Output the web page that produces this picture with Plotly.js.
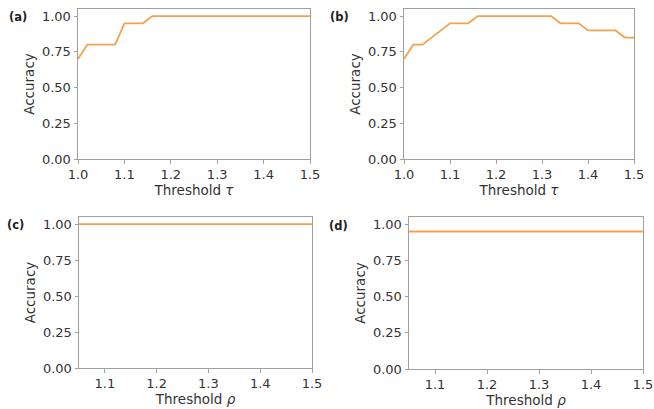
<!DOCTYPE html>
<html>
<head>
<meta charset="utf-8">
<script src="https://cdn.plot.ly/plotly-3.0.1.min.js"></script>
<style>html,body{margin:0;padding:0;background:#fff;}#chart{width:654px;height:409px;}</style>
</head>
<body>
<div id="chart"></div>
<script>
// Data
const tauValues = [1.00,1.02,1.04,1.06,1.08,1.10,1.12,1.14,1.16,1.18,1.20,1.22,1.24,1.26,1.28,1.30,1.32,1.34,1.36,1.38,1.40,1.42,1.44,1.46,1.48,1.50];
const accuracyA = [0.70,0.80,0.80,0.80,0.80,0.95,0.95,0.95,1.00,1.00,1.00,1.00,1.00,1.00,1.00,1.00,1.00,1.00,1.00,1.00,1.00,1.00,1.00,1.00,1.00,1.00];
const accuracyB = [0.70,0.80,0.80,0.85,0.90,0.95,0.95,0.95,1.00,1.00,1.00,1.00,1.00,1.00,1.00,1.00,1.00,0.95,0.95,0.95,0.90,0.90,0.90,0.90,0.85,0.85];
const rhoValues = [1.05,1.10,1.15,1.20,1.25,1.30,1.35,1.40,1.45,1.50];
const accuracyC = [1.00,1.00,1.00,1.00,1.00,1.00,1.00,1.00,1.00,1.00];
const accuracyD = [0.95,0.95,0.95,0.95,0.95,0.95,0.95,0.95,0.95,0.95];
const panelLabels = ['(a)','(b)','(c)','(d)'];
const xTitles = ['Threshold <i>τ</i>','Threshold <i>τ</i>','Threshold <i>ρ</i>','Threshold <i>ρ</i>'];
const yTitle = 'Accuracy';
const tauTicks = [1.0,1.1,1.2,1.3,1.4,1.5];
const rhoTicks = [1.1,1.2,1.3,1.4,1.5];
const accTicks = [0,0.25,0.5,0.75,1.0];

const W = 654, H = 409;
const lineColor = '#f5a24f';
const spine = '#a0a0a0';
const txt = '#333333';
const font = 'DejaVu Sans, sans-serif';

function tr(x, y, xa, ya) {
  return {x: x, y: y, xaxis: xa, yaxis: ya, type: 'scatter', mode: 'lines',
    line: {color: lineColor, width: 1.8}, hoverinfo: 'skip', showlegend: false};
}
const data = [
  tr(tauValues, accuracyA, 'x', 'y'),
  tr(tauValues, accuracyB, 'x2', 'y2'),
  tr(rhoValues, accuracyC, 'x3', 'y3'),
  tr(rhoValues, accuracyD, 'x4', 'y4')
];

// pixel boxes [left, right, top, bottom]
const boxes = [[78,310,9,159],[404,634,9,159],[79,312,217,368],[409,643,217,369]];
const xRanges = [[1.0,1.5],[1.0,1.5],[1.05,1.5],[1.05,1.5]];
const xTicks = [tauTicks, tauTicks, rhoTicks, rhoTicks];

function axisCommon() {
  return {showline: true, mirror: true, linecolor: spine, linewidth: 1,
    ticks: 'outside', ticklen: 3.5, tickwidth: 1, tickcolor: spine,
    showgrid: false, zeroline: false,
    tickfont: {family: font, size: 13, color: txt}};
}
const layout = {
  width: W, height: H,
  margin: {l: 0, r: 0, t: 0, b: 0},
  paper_bgcolor: '#fff', plot_bgcolor: '#fff',
  showlegend: false,
  annotations: []
};
const labelPos = [[18,17],[340,17],[15,225],[338,226]];
for (let i = 0; i < 4; i++) {
  const s = i === 0 ? '' : String(i + 1);
  const b = boxes[i];
  const xa = Object.assign(axisCommon(), {
    domain: [b[0] / W, b[1] / W], range: xRanges[i], anchor: 'y' + s,
    tickvals: xTicks[i], tickformat: '.1f',
    title: {text: xTitles[i], font: {family: font, size: 13.5, color: txt}, standoff: 1}
  });
  const ya = Object.assign(axisCommon(), {
    domain: [1 - b[3] / H, 1 - b[2] / H], range: [0, 1.05], anchor: 'x' + s,
    tickvals: accTicks, tickformat: '.2f',
    title: {text: yTitle, font: {family: font, size: 13.5, color: txt}, standoff: 4}
  });
  layout['xaxis' + s] = xa;
  layout['yaxis' + s] = ya;
  layout.annotations.push({
    text: '<b>' + panelLabels[i] + '</b>', xref: 'paper', yref: 'paper',
    x: labelPos[i][0] / W, y: 1 - labelPos[i][1] / H, xanchor: 'center', yanchor: 'middle',
    showarrow: false, font: {family: font, size: 11.5, color: '#222'}
  });
}
Plotly.newPlot('chart', data, layout, {staticPlot: true, displayModeBar: false});
</script>
</body>
</html>
